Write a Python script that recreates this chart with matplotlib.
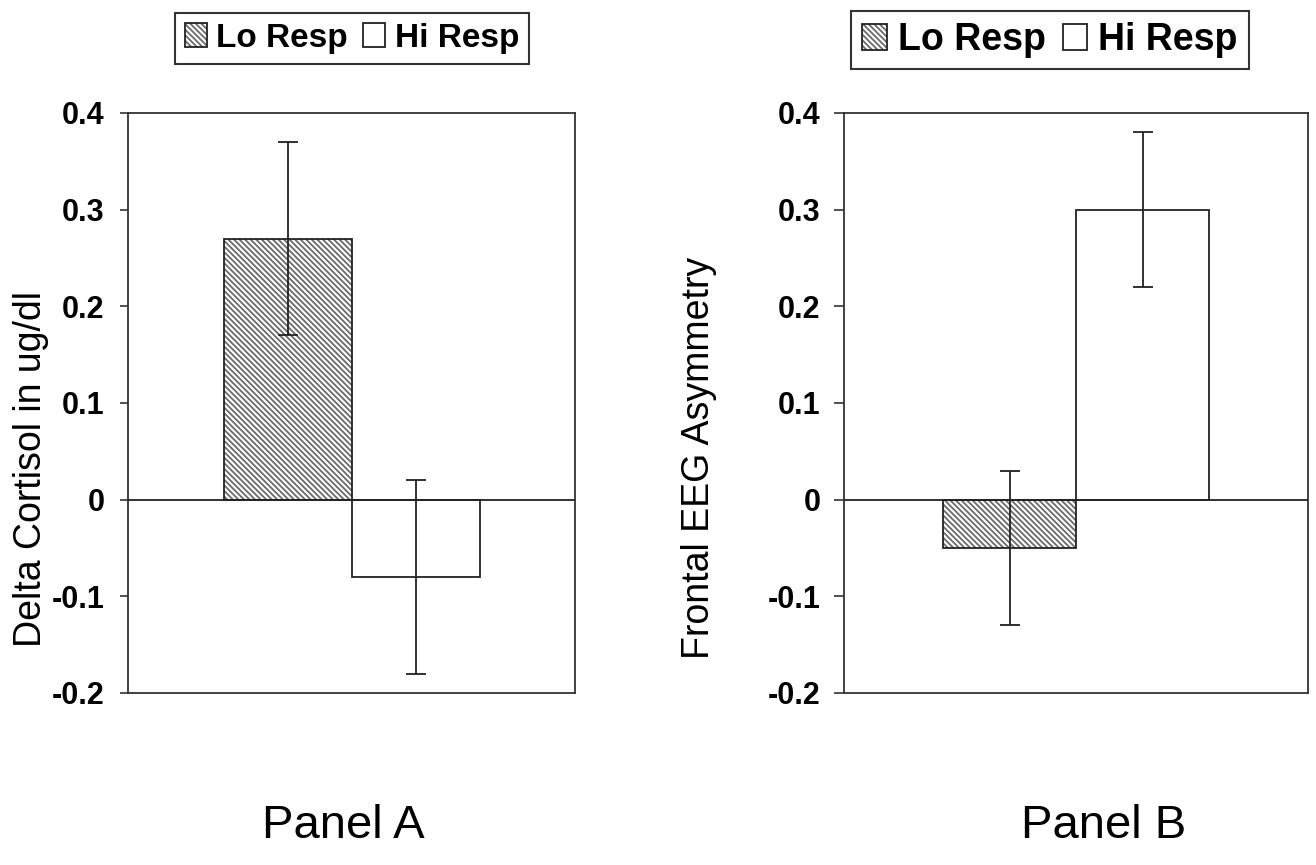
import matplotlib
matplotlib.use("Agg")
import matplotlib.pyplot as plt
from matplotlib.legend_handler import HandlerTuple

plt.rcParams['font.family'] = ['Liberation Sans', 'DejaVu Sans']
plt.rcParams['hatch.linewidth'] = 1.3

groups = ["Lo Resp", "Hi Resp"]
cortisol = [0.27, -0.08]
cortisol_err = [0.10, 0.10]
eeg = [-0.05, 0.30]
eeg_err = [0.08, 0.08]
yticks = [-0.2, -0.1, 0.0, 0.1, 0.2, 0.3, 0.4]
ytick_labels = ["-0.2", "-0.1", "0", "0.1", "0.2", "0.3", "0.4"]
panel_titles = ["Panel A", "Panel B"]
ylabels = ["Delta Cortisol in ug/dl", "Frontal EEG Asymmetry"]

hatches = ['\\' * 6, '']
HATCH_C = '#6a6a6a'
EDGE_C = '#222222'
SPINE_C = '#333333'

fig = plt.figure(figsize=(13.16, 8.65), dpi=100)
axA = fig.add_axes([128/1316, 172/865, 447/1316, 580/865])
axB = fig.add_axes([844/1316, 172/865, 464/1316, 580/865])

def draw(ax, vals, errs, tick_pad, tick_len):
    x = list(range(len(vals)))
    handles = []
    for i, (v, e) in enumerate(zip(vals, errs)):
        p1 = ax.bar(x[i], v, width=1.0, color='white', edgecolor=HATCH_C,
                    hatch=hatches[i], linewidth=0, zorder=2)
        p2 = ax.bar(x[i], v, width=1.0, fill=False, edgecolor=EDGE_C,
                    linewidth=1.3, zorder=3)
        handles.append((p1[0], p2[0]))
        ax.errorbar(x[i], v, yerr=e, fmt='none', ecolor=EDGE_C,
                    elinewidth=1.3, capsize=7, capthick=1.3, zorder=4)
    ax.axhline(0, color=EDGE_C, linewidth=1.3, zorder=3)
    ax.set_xlim(-1.245, 2.24)
    ax.set_ylim(-0.2, 0.4)
    ax.set_yticks(yticks)
    ax.set_yticklabels(ytick_labels, fontsize=22, fontweight='bold')
    ax.tick_params(axis='y', direction='out', length=tick_len, width=1.2,
                   color=SPINE_C, pad=tick_pad)
    ax.set_xticks([])
    for s in ax.spines.values():
        s.set_color(SPINE_C)
        s.set_linewidth(1.3)
    return handles

hA = draw(axA, cortisol, cortisol_err, 11, 6)
hB = draw(axB, eeg, eeg_err, 10, 7)

legA = fig.legend(hA, groups, loc='center', bbox_to_anchor=(352/1316, 1 - 38/865),
                  ncol=2, prop={'size': 24, 'weight': 'bold'},
                  handler_map={tuple: HandlerTuple(ndivide=1)},
                  frameon=True, fancybox=False, edgecolor='black',
                  handlelength=0.65, handleheight=0.7, handletextpad=0.3,
                  columnspacing=0.45, borderpad=0.3, borderaxespad=0)
legA.get_frame().set_linewidth(1.5)

legB = fig.legend(hB, groups, loc='center', bbox_to_anchor=(1050/1316, 1 - 40/865),
                  ncol=2, prop={'size': 27, 'weight': 'bold'},
                  handler_map={tuple: HandlerTuple(ndivide=1)},
                  frameon=True, fancybox=False, edgecolor='black',
                  handlelength=0.65, handleheight=0.7, handletextpad=0.3,
                  columnspacing=0.45, borderpad=0.3, borderaxespad=0)
legB.get_frame().set_linewidth(1.5)

fig.text(31/1316, 1 - 469/865, ylabels[0], rotation=90, ha='center', va='center',
         fontsize=27)
fig.text(699/1316, 1 - 458/865, ylabels[1], rotation=90, ha='center', va='center',
         fontsize=27)

fig.text(343/1316, 1 - 826/865, panel_titles[0], ha='center', va='center', fontsize=34)
fig.text(1104/1316, 1 - 826/865, panel_titles[1], ha='center', va='center', fontsize=34)

fig.savefig("out.png", dpi=100, facecolor='white')
